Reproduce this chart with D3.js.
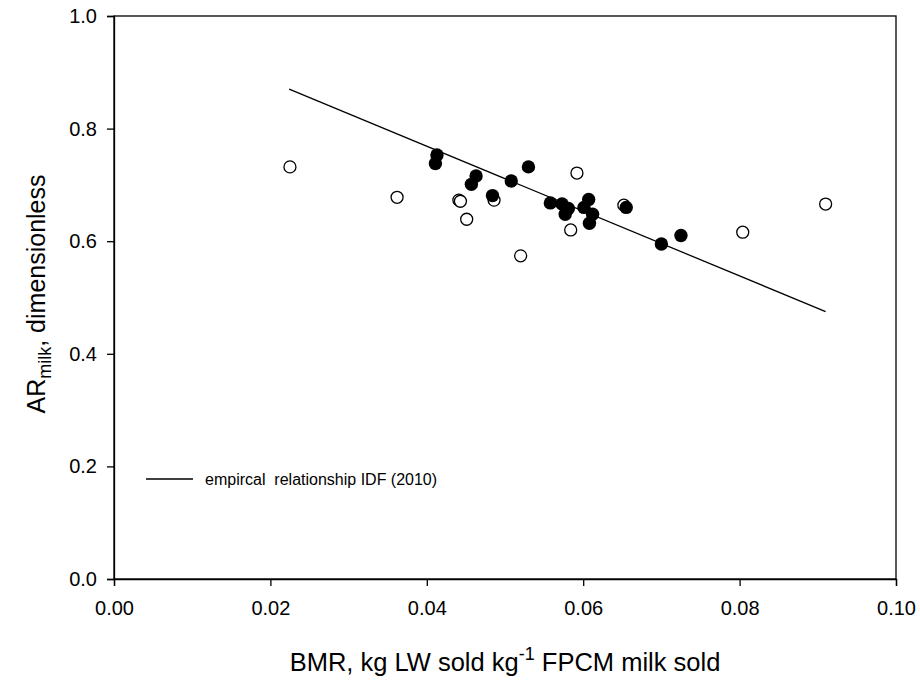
<!DOCTYPE html>
<html lang="en">
  <head>
    <meta charset="utf-8">
    <style>
      body { margin: 0; background: #fff; }
      text { font-family: "Liberation Sans", Arial, sans-serif; fill: #000; }
    </style>
  </head>
  <body>
    <script src="https://d3js.org/d3.v7.min.js"></script>
    <script>
      var width = 920,
        height = 682;
      var margin = { top: 16, right: 24, bottom: 103, left: 114 };

      // tick values
      var xTicks = [0, 0.02, 0.04, 0.06, 0.08, 0.1];
      var yTicks = [0, 0.2, 0.4, 0.6, 0.8, 1.0];

      // open circles
      var openX = [0.0225, 0.0362, 0.0441, 0.0443, 0.0451, 0.0486, 0.0520, 0.0584, 0.0592, 0.0652, 0.0804, 0.0910];
      var openY = [0.732, 0.678, 0.673, 0.671, 0.639, 0.673, 0.574, 0.620, 0.721, 0.664, 0.616, 0.666];

      // filled circles
      var fillX = [0.0413, 0.0411, 0.0463, 0.0457, 0.0484, 0.0508, 0.0530, 0.0558, 0.0573, 0.0581, 0.0577, 0.0607, 0.0601, 0.0612, 0.0608, 0.0655, 0.0700, 0.0725];
      var fillY = [0.753, 0.738, 0.716, 0.701, 0.681, 0.707, 0.732, 0.668, 0.666, 0.658, 0.648, 0.674, 0.660, 0.648, 0.632, 0.660, 0.595, 0.610];

      // empirical line end points
      var lineX = [0.0224, 0.0910];
      var lineY = [0.870, 0.475];

      var svg = d3.select("body")
        .append("svg")
        .attr("width", width)
        .attr("height", height);

      var x = d3.scaleLinear().domain([0, 0.1]).range([margin.left, width - margin.right]);
      var y = d3.scaleLinear().domain([0, 1]).range([height - margin.bottom, margin.top]);

      // frame
      svg.append("rect")
        .attr("x", x(0))
        .attr("y", y(1))
        .attr("width", x(0.1) - x(0))
        .attr("height", y(0) - y(1))
        .attr("fill", "none")
        .attr("stroke", "#000")
        .attr("stroke-width", 1.3);

      var xAxis = svg.append("g")
        .attr("transform", "translate(0," + y(0) + ")")
        .call(d3.axisBottom(x).tickValues(xTicks).tickFormat(d3.format(".2f")).tickSizeOuter(0).tickSize(7).tickPadding(15));
      var yAxis = svg.append("g")
        .attr("transform", "translate(" + x(0) + ",0)")
        .call(d3.axisLeft(y).tickValues(yTicks).tickFormat(d3.format(".1f")).tickSizeOuter(0).tickSize(7).tickPadding(10));

      [xAxis, yAxis].forEach(function (g) {
        g.select(".domain").attr("stroke-width", 1.3);
        g.selectAll(".tick line").attr("stroke-width", 1.3);
        g.selectAll(".tick text").style("font-size", "20px").attr("fill", "#000");
      });

      // regression line
      var line = d3.line()
        .x(function (d) { return x(d[0]); })
        .y(function (d) { return y(d[1]); });
      svg.append("path")
        .datum(d3.zip(lineX, lineY))
        .attr("d", line)
        .attr("fill", "none")
        .attr("stroke", "#000")
        .attr("stroke-width", 1.3);

      // points
      svg.append("g").selectAll("circle")
        .data(d3.zip(openX, openY))
        .join("circle")
        .attr("cx", function (d) { return x(d[0]); })
        .attr("cy", function (d) { return y(d[1]); })
        .attr("r", 6)
        .attr("fill", "#fff")
        .attr("stroke", "#000")
        .attr("stroke-width", 1.3);

      svg.append("g").selectAll("circle")
        .data(d3.zip(fillX, fillY))
        .join("circle")
        .attr("cx", function (d) { return x(d[0]); })
        .attr("cy", function (d) { return y(d[1]); })
        .attr("r", 6.7)
        .attr("fill", "#000");

      // legend
      svg.append("line")
        .attr("x1", 146).attr("x2", 193)
        .attr("y1", 479).attr("y2", 479)
        .attr("stroke", "#000")
        .attr("stroke-width", 1.3);
      svg.append("text")
        .attr("x", 205)
        .attr("y", 485)
        .style("font-size", "16px")
        .style("white-space", "pre")
        .text("empircal  relationship IDF (2010)");

      // x title
      var xt = svg.append("text")
        .attr("x", (x(0) + x(0.1)) / 2)
        .attr("y", 671)
        .attr("text-anchor", "middle")
        .style("font-size", "25.5px");
      xt.append("tspan").text("BMR, kg LW sold kg");
      xt.append("tspan").attr("dy", -11).style("font-size", "18px").text("-1");
      xt.append("tspan").attr("dy", 11).text(" FPCM milk sold");

      // y title
      var yt = svg.append("text")
        .attr("transform", "translate(45,294) rotate(-90)")
        .attr("text-anchor", "middle")
        .style("font-size", "25px");
      yt.append("tspan").text("AR");
      yt.append("tspan").attr("dy", 6).style("font-size", "18px").text("milk");
      yt.append("tspan").attr("dy", -6).text(", dimensionless");
    </script>
  </body>
</html>
